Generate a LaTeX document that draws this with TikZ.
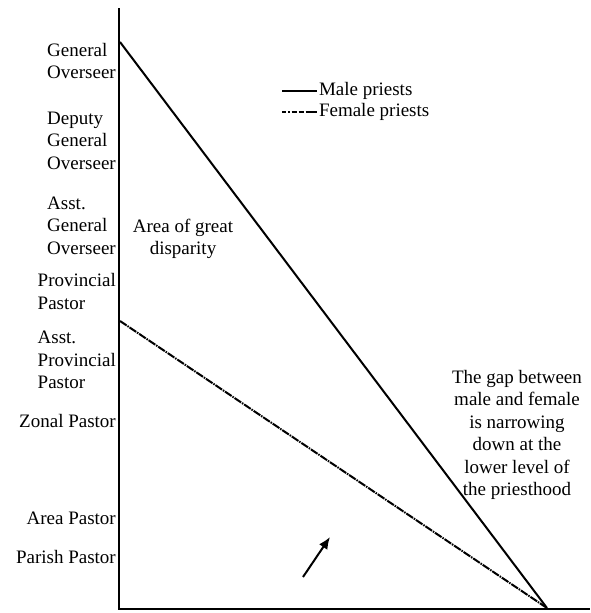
\documentclass[tikz,border=0pt]{standalone}
\usepackage{fontspec}
\setmainfont{Liberation Serif}
\usetikzlibrary{arrows.meta}
\tikzset{
  rank/.style={anchor=east, align=left, inner sep=0pt},
  note/.style={align=center, inner sep=0pt},
  female/.style={line width=2pt, dash pattern=on 8pt off 1pt on 1.5pt off 1pt}
}
\begin{document}
\begin{tikzpicture}[x=1pt, y=-1pt, font=\fontsize{19}{22.5}\selectfont]
    \useasboundingbox (0,0) rectangle (590,613);
    \coordinate (top) at (119,8);
    \coordinate (origin) at (119,609);
    \coordinate (end) at (590,609);
    \coordinate (male) at (120,42);
    \coordinate (female) at (120,321);
    \coordinate (meet) at (547,608);
    \draw[line width=2.5pt] (top) -- (origin) -- (end);
    \foreach \y/\txt [count=\i] in {61/{General\\Overseer}, 140.5/{Deputy\\General\\Overseer},
      225.5/{Asst.\\General\\Overseer}, 291.5/{Provincial\\Pastor}, 360/{Asst.\\Provincial\\Pastor},
      421/{Zonal Pastor}, 518/{Area Pastor}, 557/{Parish Pastor}}
    \node[rank] (rank\i) at (116,\y) {\txt};
    \draw[line width=2pt] (male) -- (meet);
    \draw[female] (female) -- (meet);
    % legend
    \coordinate (ma) at (282,91);
    \coordinate (mb) at (317,91);
    \coordinate (fa) at (282,112);
    \coordinate (fb) at (317,112);
    \draw[line width=2pt] (ma) -- (mb) node[right=1pt, inner sep=0pt] (maletxt) {Male priests};
    \draw[line width=2pt, dash pattern=on 4pt off 2pt on 1.5pt off 2pt on 5pt off 2pt on 5pt off 2pt on 12pt off 1pt] (fa) -- (fb) node[right=1pt, inner sep=0pt] (femaletxt) {Female priests};
    \node[note] (disparity) at (183,239) {Area of great\\disparity};
    \node[note] (gap) at (517,435) {The gap between\\male and female\\is narrowing\\down at the\\lower level of\\the priesthood};
    \coordinate (tail) at (303,577);
    \coordinate (head) at (330,537);
    \draw[line width=2pt, -{Latex[length=12pt,width=10pt]}] (tail) -- (head);
\end{tikzpicture}
\end{document}
